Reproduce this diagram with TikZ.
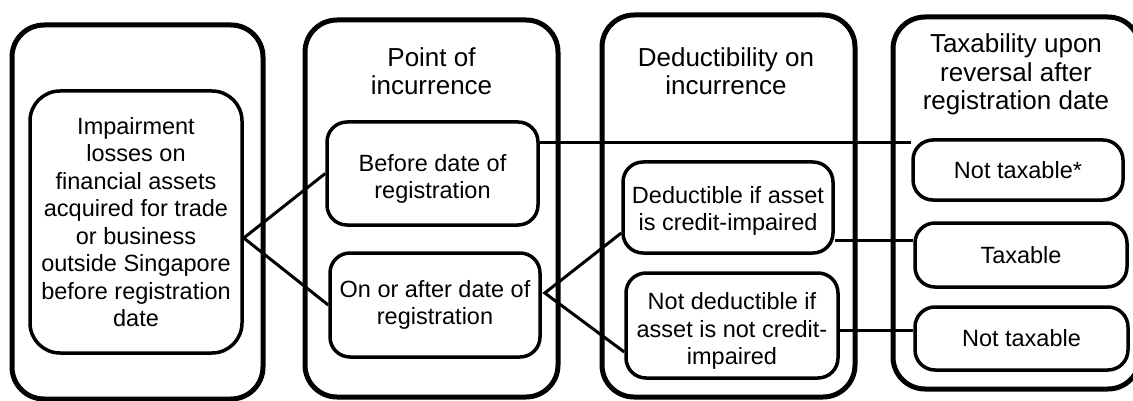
\documentclass[tikz,border=0pt]{standalone}
\usepackage{fontspec}
\setmainfont{Liberation Sans}
\newcommand{\lowertext}[2]{\raisebox{-#1}[\height][\depth]{\begin{tabular}{@{}c@{}}#2\end{tabular}}}
\begin{document}
\begin{tikzpicture}[x=1pt,y=-1pt,
  outerbox/.style={draw, line width=5pt, rounded corners=32pt, rectangle, inner sep=0pt},
  innerbox/.style={draw, fill=white, line width=3.5pt, rounded corners=20pt, rectangle, align=center,
    font=\fontsize{23.5}{27.5}\selectfont, inner sep=0pt},
  titletext/.style={align=center, font=\fontsize{26}{28.5}\selectfont, inner sep=0pt, anchor=base},
  link/.style={line width=3pt}]
\useasboundingbox (0,0) rectangle (1133,401);
\clip (0,0) rectangle (1133,401);
% columns
\node[outerbox, minimum width=251pt, minimum height=374pt] (col1) at (137.5,212) {};
\node[outerbox, minimum width=253pt, minimum height=377pt] (col2) at (431.5,208.5) {};
\node[outerbox, minimum width=253pt, minimum height=382pt] (col3) at (728.5,206) {};
\node[outerbox, minimum width=247pt, minimum height=372pt] (col4) at (1016.5,203) {};
% titles (anchor = baseline of last line)
\node[titletext] (t2) at (431.5,95) {Point of\\incurrence};
\node[titletext] (t3) at (726,95) {Deductibility on\\incurrence};
\node[titletext] (t4) at (1016,110) {Taxability upon\\reversal after\\registration date};
% inner boxes
\node[innerbox, rounded corners=30pt, minimum width=212pt, minimum height=262pt] (imp) at (136,222)
  {Impairment\\losses on\\financial assets\\acquired for trade\\or business\\outside Singapore\\before registration\\date};
\node[innerbox, minimum width=211pt, minimum height=103pt] (bef) at (432.5,173.5) {\lowertext{6pt}{Before date of\\registration}};
\node[innerbox, minimum width=210pt, minimum height=104pt] (onaf) at (435,305) {On or after date of\\registration};
\node[innerbox, minimum width=210pt, minimum height=91pt] (ded) at (728,207.5) {\lowertext{4pt}{Deductible if asset\\is credit-impaired}};
\node[innerbox, minimum width=212pt, minimum height=105pt] (nded) at (732,325.5) {\lowertext{6pt}{Not deductible if\\asset is not credit-\\impaired}};
\node[innerbox, minimum width=210pt, minimum height=60pt] (ntxs) at (1018,170) {Not taxable*};
\node[innerbox, minimum width=212pt, minimum height=64pt] (tx) at (1021,255) {Taxable};
\node[innerbox, minimum width=213pt, minimum height=63pt] (ntx) at (1021.5,338.5) {Not taxable};
% connectors
\coordinate (impv) at ([yshift=-16pt]imp.east);
\draw[link] (bef.west) -- (impv) -- (onaf.west);
\coordinate (befr) at ([yshift=30.5pt]bef.east);
\draw[link] (befr) -- (befr -| ntxs.west);
\coordinate (onafv) at ([xshift=3pt,yshift=12pt]onaf.east);
\draw[link] ([yshift=-25.5pt]ded.west) -- (onafv) -- ([yshift=-26.5pt]nded.west);
\coordinate (dedr) at ([yshift=-32.5pt]ded.east);
\draw[link] (dedr) -- (dedr -| tx.west);
\coordinate (ndedr) at ([yshift=-4.5pt]nded.east);
\draw[link] (ndedr) -- (ndedr -| ntx.west);
\end{tikzpicture}
\end{document}
